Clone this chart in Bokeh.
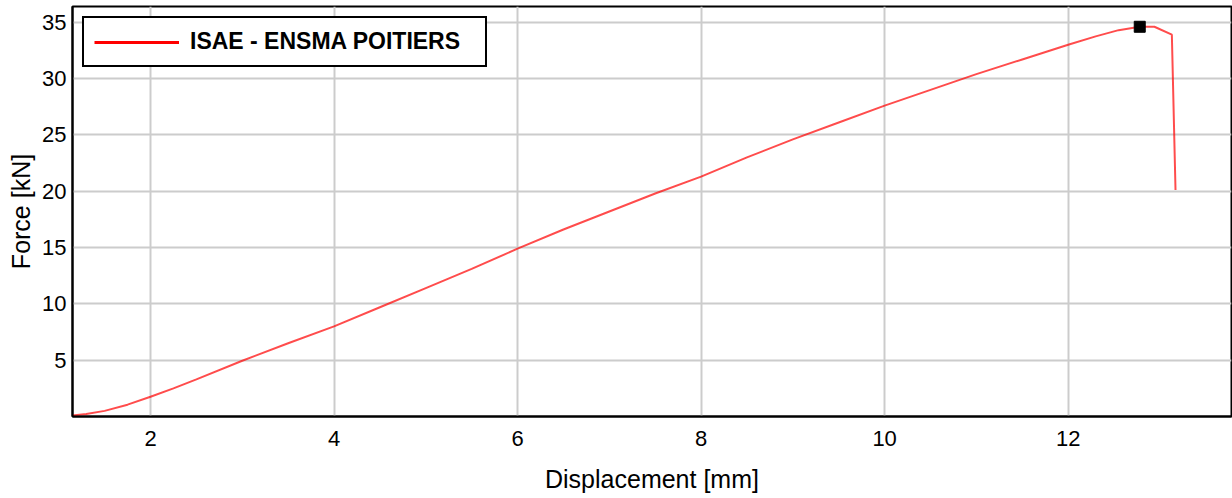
from bokeh.plotting import figure
from bokeh.models import Range1d, FixedTicker, Legend, LegendItem
from bokeh.embed import file_html
from bokeh.resources import INLINE

# Data
displacement = [1.15, 1.3, 1.5, 1.75, 2.0, 2.25, 2.5, 3.0, 3.5, 4.0, 4.5, 5.0, 5.5, 6.0,
                6.5, 7.0, 7.5, 8.0, 8.5, 9.0, 9.5, 10.0, 10.5, 11.0, 11.5, 12.0,
                12.3, 12.55, 12.78, 12.94, 13.13, 13.17]
force = [0.1, 0.22, 0.5, 1.05, 1.75, 2.5, 3.3, 4.95, 6.5, 8.0, 9.7, 11.4, 13.1, 14.9,
         16.6, 18.2, 19.8, 21.3, 23.0, 24.6, 26.1, 27.6, 29.0, 30.4, 31.7, 33.0,
         33.75, 34.3, 34.6, 34.6, 33.9, 20.1]
peak_disp = [12.78]
peak_force = [34.6]
x_ticks = [2, 4, 6, 8, 10, 12]
y_ticks = [5, 10, 15, 20, 25, 30, 35]
series_name = "ISAE - ENSMA POITIERS"

FONT = "Liberation Sans"

p = figure(width=1232, height=495, output_backend="svg", toolbar_location=None,
           x_range=Range1d(1.15, 13.78), y_range=Range1d(0, 36.4),
           min_border_left=72, min_border_right=1, min_border_top=6, min_border_bottom=79)

p.outline_line_color = "black"
p.outline_line_width = 2
p.outline_line_alpha = 1

for ax in (p.xaxis, p.yaxis):
    ax.axis_line_color = "black"
    ax.axis_line_width = 2
    ax.major_tick_in = 0
    ax.major_tick_out = 0
    ax.minor_tick_in = 0
    ax.minor_tick_out = 0
    ax.major_label_text_font = FONT
    ax.major_label_text_font_size = "22px"
    ax.major_label_text_color = "black"
    ax.axis_label_text_font = FONT
    ax.axis_label_text_font_size = "25px"
    ax.axis_label_text_font_style = "normal"
    ax.axis_label_text_color = "black"

p.xaxis.ticker = FixedTicker(ticks=x_ticks)
p.yaxis.ticker = FixedTicker(ticks=y_ticks)
p.xaxis.axis_label = "Displacement [mm]"
p.yaxis.axis_label = "Force [kN]"
p.xaxis.major_label_standoff = 14
p.xaxis.axis_label_standoff = 16
p.yaxis.major_label_standoff = 6
p.yaxis.axis_label_standoff = 4

p.grid.grid_line_color = "#cccccc"
p.grid.grid_line_width = 2

line = p.line(displacement, force, line_color="red", line_alpha=0.7, line_width=2)
p.scatter(peak_disp, peak_force, marker="square", size=11, fill_color="black",
          line_color="black")

# renderer used only for the legend swatch (pure red, thicker)
legend_line = p.line(displacement, force, line_color="red", line_width=3, visible=False)
legend = Legend(items=[LegendItem(label=series_name, renderers=[legend_line])],
                location="top_left")
legend.margin = 10
legend.padding = 10
legend.glyph_width = 85
legend.glyph_height = 20
legend.label_standoff = 11
legend.label_width = 285
legend.label_text_font = FONT
legend.label_text_font_size = "23px"
legend.label_text_font_style = "bold"
legend.label_text_color = "black"
legend.border_line_color = "black"
legend.border_line_width = 2
legend.border_line_alpha = 1
legend.background_fill_alpha = 1
p.add_layout(legend)

open("out.html", "w").write(file_html(p, INLINE))
